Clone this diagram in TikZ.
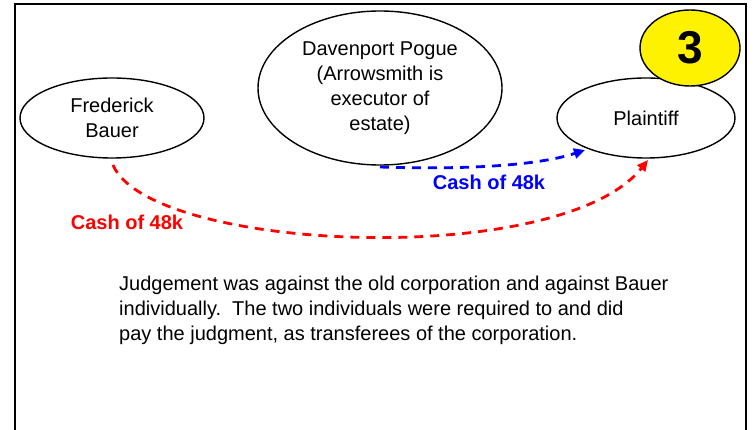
\documentclass[tikz,border=0pt]{standalone}
\usepackage{fontspec}
\setmainfont{Liberation Sans}
\usetikzlibrary{shapes.geometric,arrows.meta}
\begin{document}
\begin{tikzpicture}[x=1pt,y=-1pt,
  party/.style={draw,line width=1.4pt,ellipse,inner sep=0pt,align=center,font=\fontsize{20}{25}\selectfont},
  flow/.style={line width=2.8pt,dash pattern=on 9pt off 7pt,-{Triangle[length=11pt,width=10pt]}},
  lbl/.style={font=\bfseries\fontsize{20}{22}\selectfont}]
\useasboundingbox (0,0) rectangle (755,430);
\fill[white] (0,0) rectangle (755,430);
\draw[line width=2.4pt] (15,430) -- (15,4) -- (746,4) -- (746,430);
\node[party,minimum width=184pt,minimum height=80pt] (fb) at (112,118) {Frederick\\Bauer};
\node[party,minimum width=244pt,minimum height=154pt] (dp) at (380,88) {Davenport Pogue\\(Arrowsmith is\\executor of\\estate)};
\node[party,minimum width=178pt,minimum height=80pt] (pl) at (646,118) {Plaintiff};
\node[party,fill=yellow,minimum width=100pt,minimum height=76pt,font=\bfseries\fontsize{46}{48}\selectfont] (n3) at (690,48) {3};
\coordinate (bs) at (380,167);
\coordinate (be) at (585,150);
\coordinate (rs) at (113,165);
\coordinate (re) at (648,160);
\draw[flow,blue] (bs) .. controls (470,170) and (540,165) .. (be);
\draw[flow,red] (rs) .. controls (150,252) and (560,270) .. (re);
\node[lbl,blue] (bl) at (489,182) {Cash of 48k};
\node[lbl,red] (rl) at (127,222) {Cash of 48k};
\node[anchor=north west,align=left,font=\fontsize{20}{25}\selectfont,inner sep=0pt] (txt) at (119,276) {Judgement was against the old corporation and against Bauer\\individually.\ \ The two individuals were required to and did\\pay the judgment, as transferees of the corporation.};
\end{tikzpicture}
\end{document}
